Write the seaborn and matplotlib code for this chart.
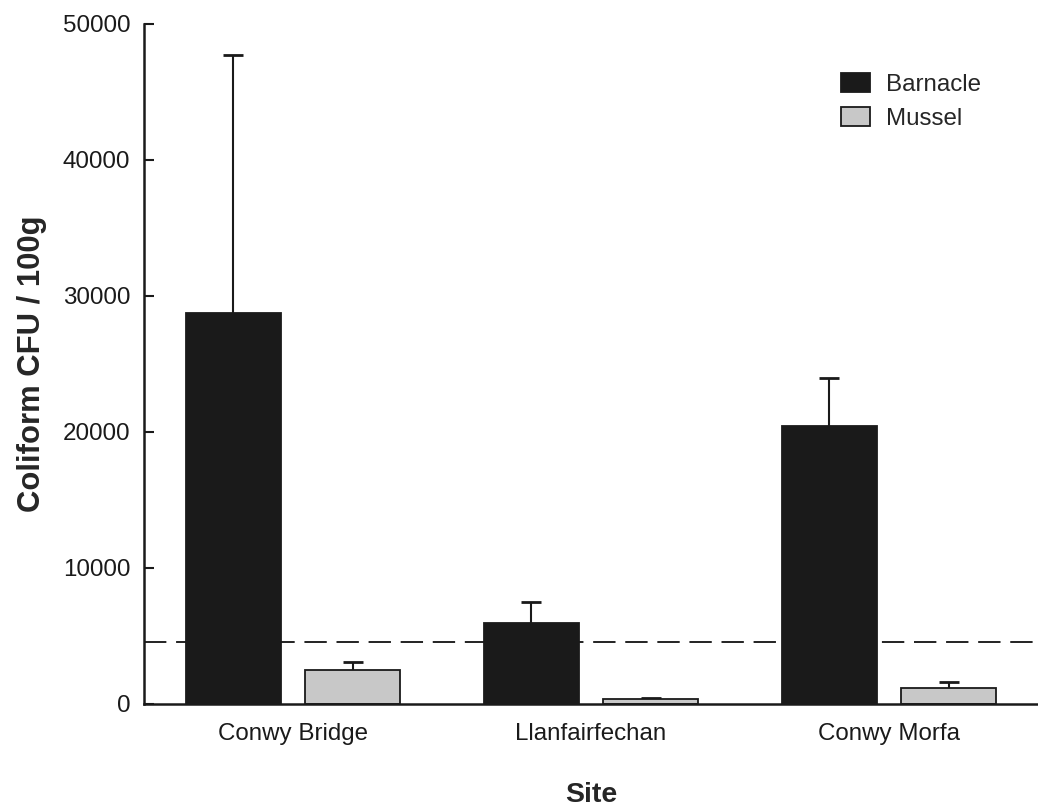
import matplotlib
matplotlib.use("Agg")
import matplotlib.pyplot as plt
import seaborn as sns
import pandas as pd

# Mean coliform counts per site and organism, with upper standard errors
sites = ["Conwy Bridge", "Llanfairfechan", "Conwy Morfa"]
organisms = ["Barnacle", "Mussel"]
barnacle_mean = [28750, 5930, 20460]
barnacle_err = [18970, 1545, 3510]
mussel_mean = [2500, 370, 1150]
mussel_err = [610, 90, 490]
threshold = 4560
y_ticks = [0, 10000, 20000, 30000, 40000, 50000]

df = pd.DataFrame({
    "Site": sites * 2,
    "Organism": ["Barnacle"] * 3 + ["Mussel"] * 3,
    "CFU": barnacle_mean + mussel_mean,
    "Err": barnacle_err + mussel_err,
})

sns.set_style("white")
plt.rcParams["font.family"] = ["Liberation Sans", "DejaVu Sans"]

INK = "#1a1a1a"
fig = plt.figure(figsize=(10.38, 8.07), dpi=100)
ax = fig.add_axes([144 / 1038, 103 / 807, 1 - 144 / 1038, (704 - 24) / 807])

palette = {"Barnacle": INK, "Mussel": "#c8c8c8"}
sns.barplot(data=df, x="Site", y="CFU", hue="Organism", hue_order=organisms,
            order=sites, palette=palette, gap=0.2, width=0.8,
            edgecolor=INK, linewidth=1.3, errorbar=None, ax=ax, zorder=3)

# Upper-only error bars at each bar centre
for patch_group, org in zip(ax.containers, organisms):
    sub = df[df["Organism"] == org].set_index("Site").loc[sites]
    xs = [p.get_x() + p.get_width() / 2 for p in patch_group]
    _, caps, _ = ax.errorbar(xs, sub["CFU"], yerr=[[0] * len(xs), sub["Err"]],
                             fmt="none", ecolor=INK, elinewidth=1.5,
                             capsize=7.2, capthick=2.0, zorder=2)
    caps[0].set_visible(False)

ax.axhline(threshold, color="#222222", lw=1.4, dashes=(11.5, 5), zorder=1)

ax.set_xlim(-0.5, 2.5)
ax.set_ylim(0, 50000)
ax.set_yticks(y_ticks)
ax.set_yticklabels([str(v) for v in y_ticks], fontsize=17.4)
ax.tick_params(axis="y", left=True, direction="in", length=7, width=1.5,
               pad=10, colors=INK)
ax.tick_params(axis="x", length=0, pad=14, labelsize=17.4, colors=INK)

for side in ["top", "right"]:
    ax.spines[side].set_visible(False)
for side in ["left", "bottom"]:
    ax.spines[side].set_color(INK)
    ax.spines[side].set_linewidth(1.8)
    ax.spines[side].set_zorder(4)

ax.set_xlabel("Site", fontsize=20.5, fontweight="bold")
ax.xaxis.set_label_coords(0.5, -0.114)
ax.set_ylabel("Coliform CFU / 100g", fontsize=22.3, fontweight="bold", labelpad=11)

ax.legend(loc="upper left", bbox_to_anchor=(0.755, 0.960), frameon=False,
          fontsize=17.4, handlelength=1.2, handleheight=0.83, labelspacing=0.48,
          handletextpad=0.66, borderpad=0.4, title=None)

fig.savefig("out.png", dpi=100, facecolor="white")
